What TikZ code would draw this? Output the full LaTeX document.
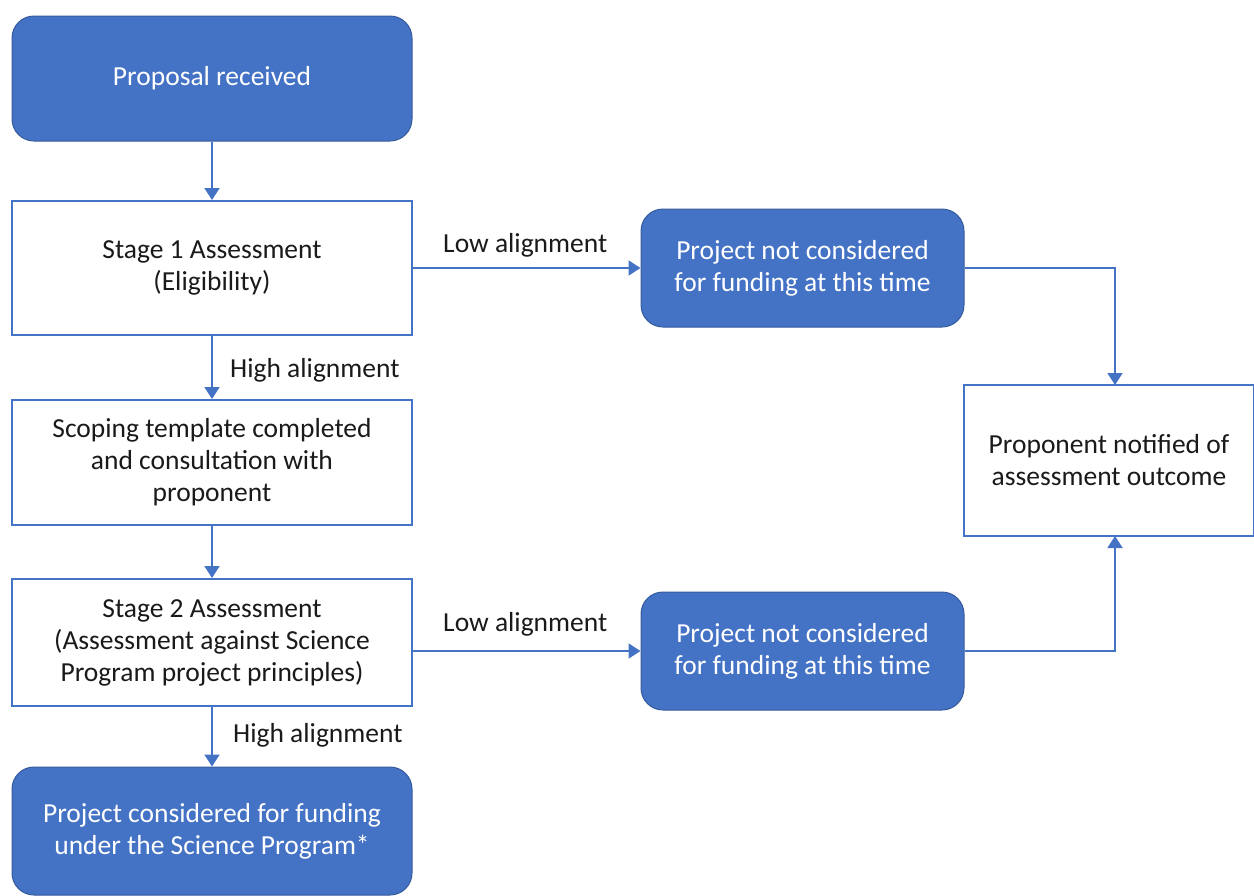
\documentclass[tikz,border=0pt]{standalone}
\usepackage{fontspec}
\setmainfont{Carlito}
\usetikzlibrary{arrows.meta}
\definecolor{obl}{HTML}{4472C4}
\definecolor{txt}{HTML}{1A1A1A}
\begin{document}
\begin{tikzpicture}[x=1pt,y=-1pt,
  font=\fontsize{27.5}{32}\selectfont,
  filledbox/.style={draw=obl!80!black, line width=1pt, fill=obl, rounded corners=22pt, text=white, align=center, inner sep=0pt},
  plainbox/.style={draw=obl, line width=2pt, fill=white, text=txt, align=center, inner sep=0pt},
  conn/.style={draw=obl, line width=1.8pt, -{Triangle[width=15pt,length=12pt]}},
  lbl/.style={text=txt, inner sep=0pt, anchor=west}]
\useasboundingbox (0,0) rectangle (1254,895);
\node[filledbox, minimum width=400pt, minimum height=125pt] (prop) at (212,78.5) {Proposal received};
\node[plainbox, minimum width=400pt, minimum height=134pt] (s1) at (212,268) {Stage 1 Assessment\\(Eligibility)};
\node[plainbox, minimum width=400pt, minimum height=125pt] (scope) at (212,462.5) {Scoping template completed\\and consultation with\\proponent};
\node[plainbox, minimum width=400pt, minimum height=127pt] (s2) at (212,642.5) {Stage 2 Assessment\\(Assessment against Science\\Program project principles)};
\node[filledbox, minimum width=400pt, minimum height=128pt] (cons) at (212,831) {Project considered for funding\\under the Science Program*};
\node[filledbox, minimum width=323pt, minimum height=118pt] (nc1) at (802.5,268) {Project not considered\\for funding at this time};
\node[filledbox, minimum width=323pt, minimum height=118pt] (nc2) at (802.5,651) {Project not considered\\for funding at this time};
\node[plainbox, minimum width=290pt, minimum height=151pt] (notif) at (1109,460.5) {Proponent notified of\\assessment outcome};
\coordinate (nt) at (1115,385);
\coordinate (nb) at (1115,536);

\draw[conn] (prop.south) -- (s1.north);
\draw[conn] (s1.south) -- (scope.north);
\draw[conn] (scope.south) -- (s2.north);
\draw[conn] (s2.south) -- (cons.north);
\draw[conn] (s1.east) -- (nc1.west);
\draw[conn] (s2.east |- nc2.west) -- (nc2.west);
\draw[conn] (nc1.east) -| (nt);
\draw[conn] (nc2.east) -| (nb);

\node[lbl] (l1) at (443,245) {Low alignment};
\node[lbl] (l2) at (443,624) {Low alignment};
\node[lbl] (h1) at (230,370) {High alignment};
\node[lbl] (h2) at (233,735) {High alignment};
\end{tikzpicture}
\end{document}
